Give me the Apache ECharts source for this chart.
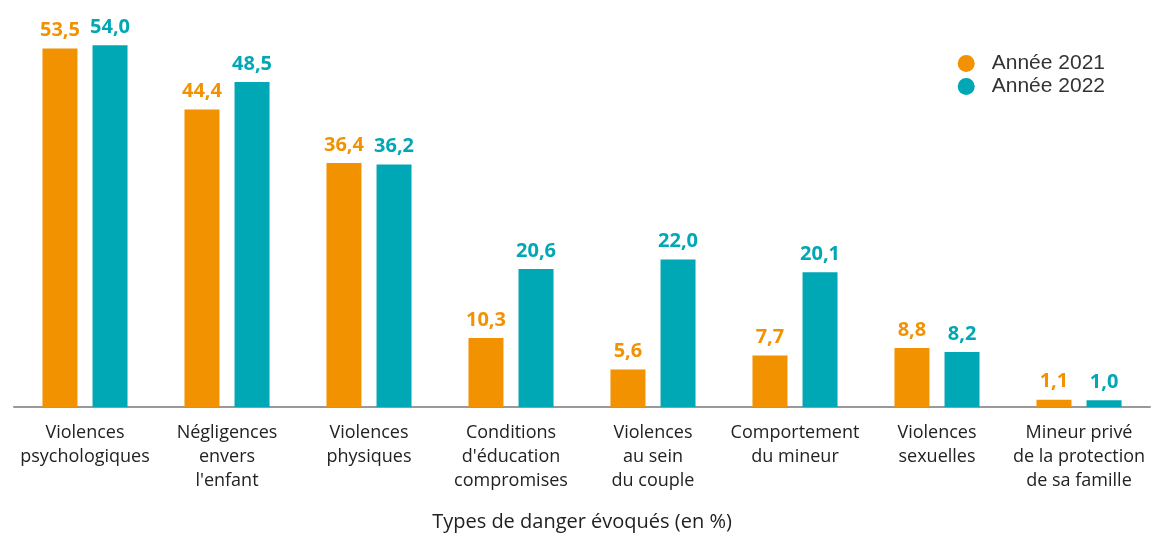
<!DOCTYPE html>
<html>
<head>
<meta charset="utf-8">
<script src="https://cdn.jsdelivr.net/npm/echarts@6/dist/echarts.min.js"></script>
<style>
  html, body { margin: 0; padding: 0; background: #fff; }
  #chart { width: 1154px; height: 533px; }
</style>
</head>
<body>
<div id="chart"></div>
<script>
// Types de danger (one label per category, line breaks kept)
const categories = [
  "Violences\npsychologiques",
  "Négligences\nenvers\nl'enfant",
  "Violences\nphysiques",
  "Conditions\nd'éducation\ncompromises",
  "Violences\nau sein\ndu couple",
  "Comportement\ndu mineur",
  "Violences\nsexuelles",
  "Mineur privé\nde la protection\nde sa famille"
];
const values2021 = [53.5, 44.4, 36.4, 10.3, 5.6, 7.7, 8.8, 1.1];
const values2022 = [54.0, 48.5, 36.2, 20.6, 22.0, 20.1, 8.2, 1.0];
const seriesNames = ["Année 2021", "Année 2022"];
const colors = ["#F39200", "#00A7B5"];

const fmt = p => p.value.toFixed(1).replace(".", ",");

const chart = echarts.init(document.getElementById("chart"));
chart.setOption({
  animation: false,
  textStyle: { fontFamily: "Open Sans" },
  grid: { left: 14, right: 4, top: 5, bottom: 126, outerBoundsMode: "none" },
  legend: {
    right: 44, top: 48,
    orient: "vertical",
    itemGap: 2,
    icon: "circle",
    itemWidth: 17, itemHeight: 17,
    textStyle: { fontFamily: "Liberation Sans", fontSize: 21, color: "#333", padding: [0, 0, 0, 12] },
    data: seriesNames
  },
  xAxis: {
    type: "category",
    data: categories,
    name: "Types de danger évoqués (en %)",
    nameLocation: "middle",
    nameGap: 105,
    nameTextStyle: { fontSize: 20, color: "#222" },
    axisLine: { lineStyle: { color: "#999", width: 2 } },
    axisTick: { show: false },
    axisLabel: { interval: 0, fontSize: 18, color: "#222", lineHeight: 24, margin: 14 }
  },
  yAxis: {
    type: "value", min: 0, max: 60,
    show: false,
    splitLine: { show: false }
  },
  series: [
    {
      name: seriesNames[0], type: "bar", data: values2021,
      barWidth: 35, barGap: "43%", barCategoryGap: "40%",
      itemStyle: { color: colors[0] },
      label: { show: true, position: "top", distance: 8, formatter: fmt,
               fontSize: 20, fontWeight: "bold", color: colors[0] }
    },
    {
      name: seriesNames[1], type: "bar", data: values2022,
      barWidth: 35,
      itemStyle: { color: colors[1] },
      label: { show: true, position: "top", distance: 8, formatter: fmt,
               fontSize: 20, fontWeight: "bold", color: colors[1] }
    }
  ]
});
</script>
</body>
</html>
